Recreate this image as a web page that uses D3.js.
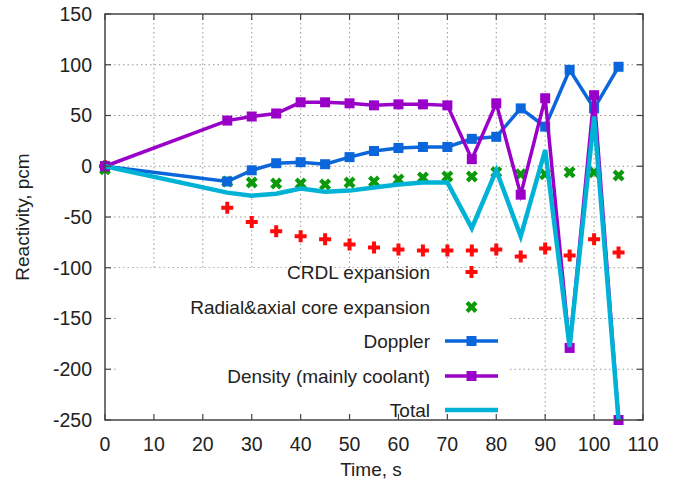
<!DOCTYPE html>
<html>
<head>
<meta charset="utf-8">
<script src="https://d3js.org/d3.v7.min.js"></script>
<style>
  body { margin: 0; background: #fff; }
  text { font-family: "Liberation Sans", Arial, sans-serif; fill: #222; }
</style>
</head>
<body>
<script type="text/javascript">

// Data
var time    = [0, 25, 30, 35, 40, 45, 50, 55, 60, 65, 70, 75, 80, 85, 90, 95, 100, 105];
var crdl    = [0, -41, -55, -64, -69, -72, -77, -80, -82, -83, -83, -83, -82, -89, -81, -88, -72, -85];
var radial  = [-3, -15, -16, -17, -17, -18, -16, -15, -13, -11, -10, -10, -6, -8, -8, -6, -6, -9];
var doppler = [0, -15, -4, 3, 4, 2, 9, 15, 18, 19, 19, 27, 29, 57, 39, 95, 57, 98];
var density = [0, 45, 49, 52, 63, 63, 62, 60, 61, 61, 60, 7, 62, -28, 67, -179, 70, -250];
var total   = [0, -26, -29, -27, -22, -25, -24, -21, -18, -16, -16, -61, -4, -69, 16, -178, 49, -250];

var xTicks = [0, 10, 20, 30, 40, 50, 60, 70, 80, 90, 100, 110];
var yTicks = [150, 100, 50, 0, -50, -100, -150, -200, -250];

var legendNames = ["CRDL expansion", "Radial&axial core expansion", "Doppler",
                   "Density (mainly coolant)", "Total"];

var w = 674, h = 490;
var margin = {top: 14, right: 31, bottom: 70, left: 105};
var width = w - margin.left - margin.right,
    height = h - margin.top - margin.bottom;

var x = d3.scaleLinear().domain([0, 110]).range([0, width]);
var y = d3.scaleLinear().domain([-250, 150]).range([height, 0]);

var svg = d3.select("body").append("svg")
    .attr("width", w)
    .attr("height", h);

var g = svg.append("g")
    .attr("transform", "translate(" + margin.left + "," + margin.top + ")");

/* grid */
var grid = g.append("g").attr("class", "grid");
grid.selectAll("line.vx")
    .data(xTicks.slice(1, -1))
    .enter().append("line")
    .attr("x1", d => x(d)).attr("x2", d => x(d))
    .attr("y1", 0).attr("y2", height)
    .attr("stroke", "#999").attr("stroke-width", 1)
    .attr("stroke-dasharray", "1.5,3");
grid.selectAll("line.hy")
    .data(yTicks.slice(1, -1))
    .enter().append("line")
    .attr("x1", 0).attr("x2", width)
    .attr("y1", d => y(d)).attr("y2", d => y(d))
    .attr("stroke", "#999").attr("stroke-width", 1)
    .attr("stroke-dasharray", "1.5,3");

/* series */
var rows = time.map(function(t, i) {
    return {t: t, crdl: crdl[i], radial: radial[i], doppler: doppler[i],
            density: density[i], total: total[i]};
});

var blue = "#0a66da", purple = "#9a00c8", cyan = "#00b2d6",
    red = "#ff0a0a", green = "#0a9a0a";

var plusPath = d3.symbol().type(d3.symbolCross).size(80);
var xPath = d3.symbol().type(d3.symbolCross).size(90);

function plusMarks(sel, data, key, color) {
    sel.selectAll(null).data(data).enter().append("path")
        .attr("d", plusPath())
        .attr("transform", d => "translate(" + x(d.t) + "," + y(d[key]) + ")")
        .attr("fill", color);
}
function crossMarks(sel, data, key, color) {
    sel.selectAll(null).data(data).enter().append("path")
        .attr("d", xPath())
        .attr("transform", d => "translate(" + x(d.t) + "," + y(d[key]) + ") rotate(45)")
        .attr("fill", color);
}
function lineSeries(sel, data, key, color, lw, marker) {
    var line = d3.line().x(d => x(d.t)).y(d => y(d[key]));
    sel.append("path").datum(data)
        .attr("fill", "none").attr("stroke", color)
        .attr("stroke-width", lw).attr("stroke-linejoin", "miter")
        .attr("d", line);
    if (marker) {
        sel.selectAll(null).data(data).enter().append("rect")
            .attr("x", d => x(d.t) - 5).attr("y", d => y(d[key]) - 5)
            .attr("width", 10).attr("height", 10)
            .attr("fill", color);
    }
}

var plot = g.append("g");
plusMarks(plot, rows, "crdl", red);
crossMarks(plot, rows, "radial", green);
lineSeries(plot, rows, "doppler", blue, 3.5, true);
lineSeries(plot, rows, "density", purple, 3.5, true);
lineSeries(plot, rows, "total", cyan, 4.5, false);

/* legend (opaque box) */
var leg = g.append("g");
leg.append("rect")
    .attr("x", 117 - margin.left).attr("y", 268 - margin.top)
    .attr("width", 508 - 117).attr("height", height - (268 - margin.top))
    .attr("fill", "#fff");

var rowY = [272, 307, 341, 376, 410];
var textX = 430 - margin.left, sx1 = 445 - margin.left, sx2 = 498 - margin.left, sxm = 471.5 - margin.left;
leg.selectAll("text").data(legendNames).enter().append("text")
    .attr("x", textX).attr("y", (d, i) => rowY[i] - margin.top)
    .attr("dy", "0.35em")
    .attr("text-anchor", "end")
    .style("font-size", "19px")
    .text(d => d);

leg.append("path").attr("d", plusPath())
    .attr("transform", "translate(" + sxm + "," + (rowY[0] - margin.top) + ")")
    .attr("fill", red);
leg.append("path").attr("d", xPath())
    .attr("transform", "translate(" + sxm + "," + (rowY[1] - margin.top) + ") rotate(45)")
    .attr("fill", green);
[[2, blue, 3.5, true], [3, purple, 3.5, true], [4, cyan, 4.5, false]].forEach(function(s) {
    var yy = rowY[s[0]] - margin.top;
    leg.append("line").attr("x1", sx1).attr("x2", sx2).attr("y1", yy).attr("y2", yy)
        .attr("stroke", s[1]).attr("stroke-width", s[2]);
    if (s[3]) {
        leg.append("rect").attr("x", sxm - 5).attr("y", yy - 5)
            .attr("width", 10).attr("height", 10).attr("fill", s[1]);
    }
});

/* border and inward ticks */
var tickLen = 6, axisColor = "#444";
g.append("rect").attr("x", 0).attr("y", 0).attr("width", width).attr("height", height)
    .attr("fill", "none").attr("stroke", axisColor).attr("stroke-width", 1.5);

var tk = g.append("g").attr("stroke", axisColor).attr("stroke-width", 1.2);
xTicks.forEach(function(d) {
    tk.append("line").attr("x1", x(d)).attr("x2", x(d)).attr("y1", height).attr("y2", height - tickLen);
    tk.append("line").attr("x1", x(d)).attr("x2", x(d)).attr("y1", 0).attr("y2", tickLen);
});
yTicks.forEach(function(d) {
    tk.append("line").attr("x1", 0).attr("x2", tickLen).attr("y1", y(d)).attr("y2", y(d));
    tk.append("line").attr("x1", width).attr("x2", width - tickLen).attr("y1", y(d)).attr("y2", y(d));
});

/* tick labels */
g.selectAll("text.xl").data(xTicks).enter().append("text")
    .attr("x", d => x(d)).attr("y", height + 31)
    .attr("text-anchor", "middle")
    .style("font-size", "19.5px")
    .text(d => d);
g.selectAll("text.yl").data(yTicks).enter().append("text")
    .attr("x", -13).attr("y", d => y(d)).attr("dy", "0.35em")
    .attr("text-anchor", "end")
    .style("font-size", "19.5px")
    .text(d => d);

/* axis titles */
svg.append("text")
    .attr("x", 371).attr("y", 476)
    .attr("text-anchor", "middle")
    .style("font-size", "19px")
    .text("Time, s");
svg.append("text")
    .attr("transform", "translate(29," + (margin.top + height / 2) + ") rotate(-90)")
    .attr("text-anchor", "middle")
    .style("font-size", "19px")
    .text("Reactivity, pcm");

</script>
</body>
</html>
